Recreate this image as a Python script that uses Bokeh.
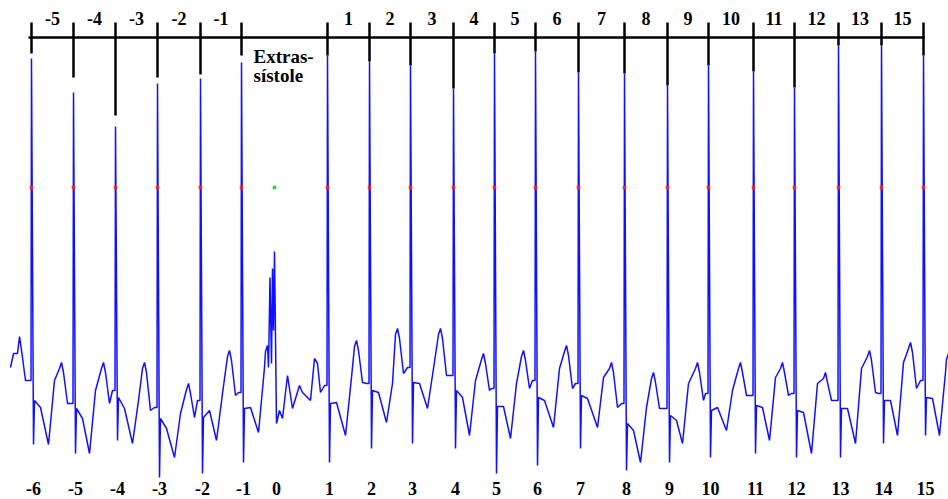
from bokeh.plotting import figure
from bokeh.models import Range1d
from bokeh.core.properties import value
from bokeh.embed import file_html
from bokeh.resources import INLINE

# ---------------- data (sample index, amplitude in mV) ----------------
beat_x = [31, 73, 115, 157, 200, 241, 327, 369, 410, 453, 494, 535, 578, 624,
          667, 708, 753, 794, 838, 881, 923]
beat_num = [-6, -5, -4, -3, -2, -1, 1, 2, 3, 4, 5, 6, 7, 8, 9, 10, 11, 12, 13, 14, 15]
interval_labels = ["-5", "-4", "-3", "-2", "-1", "", "1", "2", "3", "4", "5", "6",
                   "7", "8", "9", "10", "11", "12", "13", "15"]

r_top = [3.42, 3.08, 2.74, 3.17, 3.22, 3.38, 3.45, 3.39, 3.35, 3.12, 3.47, 3.49,
         3.28, 3.27, 3.15, 3.35, 3.29, 3.13, 3.55, 3.55, 3.45]
tick_end = [3.47, 3.23, 2.85, 3.23, 3.26, 3.45, 3.45, 3.39, 3.35, 3.12, 3.47, 3.49,
            3.28, 3.27, 3.15, 3.35, 3.29, 3.13, 3.55, 3.55, 3.45]
pre_mv = [0.20, -0.03, 0.10, -0.07, 0.00, 0.08, 0.15, 0.17, 0.33, 0.25, 0.12, 0.20,
          0.17, -0.03, -0.08, 0.07, 0.05, 0.07, 0.00, 0.07, 0.20]
s_mv = [-0.44, -0.53, -0.40, -0.77, -0.73, -0.62, -0.62, -0.48, -0.43, -0.48, -0.73,
        -0.65, -0.48, -0.70, -0.62, -0.57, -0.53, -0.57, -0.57, -0.43, -0.35]
st1_mv = [0.00, -0.08, 0.03, -0.18, -0.17, -0.08, -0.03, 0.10, 0.18, 0.10, -0.06, 0.03,
          0.05, -0.23, -0.15, -0.10, -0.05, -0.10, -0.08, 0.00, 0.03]
st2_mv = [-0.07, -0.18, -0.08, -0.28, -0.10, -0.07, -0.02, 0.08, 0.17, 0.03, -0.06, 0.00,
          0.02, -0.30, -0.20, -0.07, -0.07, -0.12, -0.08, 0.00, 0.02]
dip_off = [17, 16, 17, 17, 16, 17, 18, 17, 17, 16, 16, 18, 19, 16, 15, 18, 16, 17, 17, 16, 16]
dip_mv = [-0.44, -0.53, -0.43, -0.57, -0.40, -0.32, -0.35, -0.22, -0.08, -0.35, -0.38,
          -0.27, -0.27, -0.62, -0.43, -0.30, -0.40, -0.53, -0.43, -0.35, -0.35]
rise_mv = [0.20, 0.10, 0.00, -0.13, 0.07, 0.33, 0.23, 0.17, 0.32, 0.20, 0.17, 0.32,
           0.23, -0.07, 0.17, 0.10, 0.23, 0.17, 0.32, 0.38, 0.28]
t_off = [30, 30, 29, 31, 29, 26, 29, 28, 30, 30, 29, 31, 33, 29, 30, 32, 29, 31, 31, 29, 25]
t_mv = [0.38, 0.38, 0.38, 0.17, 0.50, 0.55, 0.60, 0.72, 0.72, 0.47, 0.50, 0.55, 0.38,
        0.28, 0.38, 0.38, 0.38, 0.28, 0.50, 0.58, 0.47]
post_mv = [-0.03, -0.03, -0.10, -0.17, 0.05, None, 0.18, 0.27, 0.25, 0.10, 0.12, 0.12,
           -0.07, -0.08, 0.00, 0.05, 0.05, 0.00, 0.08, 0.12, None]

lead_x = [10, 13, 17, 19, 22, 25]
lead_mv = [0.33, 0.47, 0.47, 0.64, 0.43, 0.20]

ext_x = [268, 269.5, 271, 272, 273, 274, 276, 279, 282, 287, 292, 299, 302, 307, 310,
         314, 317, 320, 324]
ext_mv = [0.33, 1.23, 0.37, 1.32, 0.70, 1.49, -0.23, -0.10, -0.18, 0.25, -0.08, 0.15,
          0.08, 0.03, 0.00, 0.42, 0.37, 0.08, 0.15]
ext_peak_x = 274
threshold_mv = 2.13

# ---------------- build trace ----------------
tx, ty = list(lead_x), list(lead_mv)
for i, x0 in enumerate(beat_x):
    tx += [x0 - 3, x0 - 0.5, x0, x0 + 2, x0 + 3, x0 + 9,
           x0 + dip_off[i], x0 + dip_off[i] + 6]
    ty += [pre_mv[i], pre_mv[i], r_top[i], s_mv[i], st1_mv[i], st2_mv[i],
           dip_mv[i], rise_mv[i]]
    # rounded T wave
    tx += [x0 + t_off[i] - 2, x0 + t_off[i]]
    ty += [t_mv[i] - 0.06, t_mv[i]]
    if post_mv[i] is not None:
        tx += [x0 + t_off[i] + 2, x0 + t_off[i] + 6]
        ty += [t_mv[i] - 0.10, post_mv[i]]
    if beat_num[i] == -1:
        tx += ext_x
        ty += ext_mv

# ---------------- figure ----------------
p = figure(width=948, height=499, output_backend="svg", toolbar_location=None,
           x_range=Range1d(0, 948), y_range=Range1d(-0.99, 4.00),
           min_border=0, outline_line_color=None)
p.axis.visible = False
p.grid.visible = False
p.background_fill_color = "white"

RULER_Y = 3.63
TICK_TOP = 3.78
font = value("Liberation Serif")

# ruler
p.line([beat_x[0] - 3, beat_x[-1] + 1], [RULER_Y, RULER_Y], line_color="black", line_width=2.5)
p.segment(x0=beat_x, y0=[TICK_TOP] * len(beat_x), x1=beat_x, y1=tick_end,
          line_color="black", line_width=2.5)

# trace
p.line(tx, ty, line_color="#1010ff", line_width=1.5)

# detection markers
p.scatter(beat_x, [threshold_mv] * len(beat_x), marker="square", size=3.5,
          fill_color="#ff2020", line_color=None)
p.scatter([ext_peak_x], [threshold_mv], marker="square", size=3.5,
          fill_color="#20e020", line_color=None)

# interval labels (top)
mids, labs = [], []
for i, lab in enumerate(interval_labels):
    if lab:
        mids.append((beat_x[i] + beat_x[i + 1]) / 2)
        labs.append(lab)
p.text(mids, [3.82] * len(mids), text=labs, text_font=font, text_font_style="bold",
       text_font_size="18px", text_align="center", text_baseline="middle", text_color="black")

# beat labels (bottom)
bx = beat_x[:6] + [ext_peak_x] + beat_x[6:]
bl = [str(n) for n in beat_num[:6]] + ["0"] + [str(n) for n in beat_num[6:]]
p.text(bx, [-0.88] * len(bx), text=bl, text_font=font, text_font_style="bold",
       text_font_size="18px", text_align="center", text_baseline="middle",
       x_offset=2, text_color="black")

# annotation
p.text([253, 253], [3.44, 3.25], text=["Extras-", "sístole"], text_font=font,
       text_font_style="bold", text_font_size="19px", text_align="left",
       text_baseline="middle", text_color="black")

open("out.html", "w").write(file_html(p, INLINE))
